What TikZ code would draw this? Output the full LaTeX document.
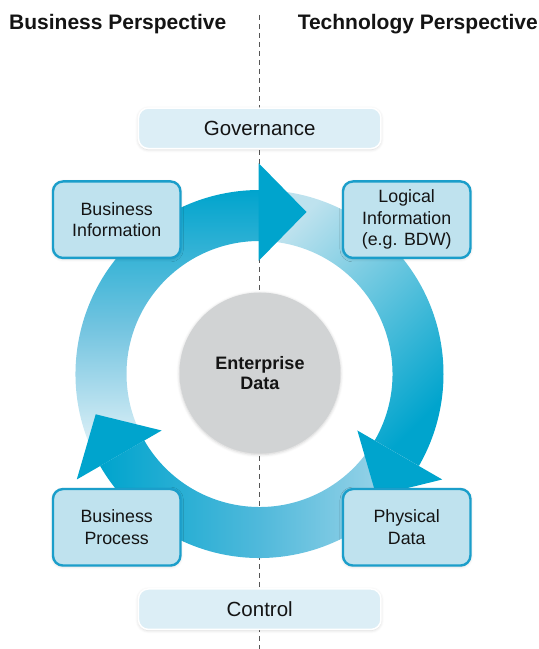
\documentclass[tikz,border=0pt]{standalone}
\usepackage{fontspec}
\setmainfont{Liberation Sans}
\usetikzlibrary{calc,shadows.blur}

% palette
\definecolor{flowdark}{RGB}{0,164,205}
\definecolor{flowmidA}{RGB}{115,196,224}
\definecolor{flowpale}{RGB}{240,248,251}
\definecolor{flowlightB}{RGB}{190,226,238}
\definecolor{flowmidC}{RGB}{80,185,219}
\definecolor{flowlightC}{RGB}{172,218,235}
\definecolor{boxfill}{RGB}{191,226,238}
\definecolor{boxline}{RGB}{27,158,202}
\definecolor{govfill}{RGB}{220,238,246}
\definecolor{corefill}{RGB}{209,211,212}
\definecolor{ink}{RGB}{20,20,20}
\definecolor{divline}{RGB}{85,85,85}

\begin{document}
\begin{tikzpicture}[x=1pt,y=1pt,
  stagebox/.style={draw=boxline, fill=boxfill, line width=2.4pt,
    rounded corners=10pt, minimum width=127.5pt, minimum height=76.5pt,
    align=center, text=ink, font=\fontsize{17.8}{21.5}\selectfont,
    blur shadow={shadow xshift=0pt, shadow yshift=-1pt,
      shadow blur radius=3pt, shadow opacity=18}},
  framebox/.style={draw=white, fill=govfill, line width=1.5pt,
    rounded corners=10pt, minimum width=242.5pt, minimum height=40.5pt,
    text=ink, font=\fontsize{20.5}{24}\selectfont,
    blur shadow={shadow xshift=0pt, shadow yshift=-1pt,
      shadow blur radius=3pt, shadow opacity=18}},
  heading/.style={text=ink, inner sep=0pt, font=\bfseries\fontsize{21}{24}\selectfont},
  divider/.style={draw=divline, line width=1.2pt, dash pattern=on 5pt off 4pt},
  flowhead/.style={fill=flowdark}
]
\useasboundingbox (0,0) rectangle (539,649);

% perspective headings
\node[heading, anchor=west] (bizhead) at (9,625) {Business Perspective};
\node[heading, anchor=east] (techhead) at (538,625) {Technology Perspective};

% vertical divider between the two perspectives
\coordinate (divtop) at (259.5,634);
\coordinate (divbot) at (259.5,0);
\draw[divider] (divtop) -- (divbot);

% circular flow: three arc bodies, then their heads
\begin{scope}[shift={(259.5,275)}]
  % left / top arc
  \shade[top color=flowdark, bottom color=flowpale, middle color=flowmidA]
    (210:184) arc[start angle=210, end angle=90, radius=184]
    -- (90:133) arc[start angle=90, end angle=210, radius=133] -- cycle;
  % right arc
  \shade[top color=flowlightB, bottom color=flowdark, shading angle=45]
    (90:184) arc[start angle=90, end angle=-30, radius=184]
    -- (-30:133) arc[start angle=-30, end angle=90, radius=133] -- cycle;
  % bottom arc
  \shade[left color=flowdark, right color=flowlightC, middle color=flowmidC]
    (-30:184) arc[start angle=-30, end angle=-150, radius=184]
    -- (-150:133) arc[start angle=-150, end angle=-30, radius=133] -- cycle;
  % heads, their bases set a hair back so they close over the divider
  \fill[flowhead] (-1,113) -- (-1,211) -- (47,162) -- cycle;
  \fill[flowhead] (-30:113) -- (-30:211) -- (116.8,-121.7) -- cycle;
  \fill[flowhead] (210:113) -- (210:211) -- (-163.8,-40.3) -- cycle;
\end{scope}

% core
\node[circle, fill=corefill, minimum size=161pt, inner sep=0pt,
  align=center, text=ink, font=\bfseries\fontsize{18}{20}\selectfont,
  blur shadow={shadow xshift=0pt, shadow yshift=-1pt, shadow blur radius=3pt, shadow opacity=20}]
  (core) at (260,276) {Enterprise\\Data};

% governance and control bands
\node[framebox] (gov) at (259.7,520.7) {Governance};
\node[framebox] (ctrl) at (259.7,39.8) {Control};

% stages of the cycle
\node[stagebox] (bizinfo) at (116.7,429.3) {Business\\Information};
\node[stagebox] (logical) at (406.7,429.3) {Logical\\Information\\(e.g. BDW)};
\node[stagebox] (physical) at (406.7,121.7) {Physical\\Data};
\node[stagebox] (bizproc) at (116.7,121.7) {Business\\Process};
\end{tikzpicture}
\end{document}
